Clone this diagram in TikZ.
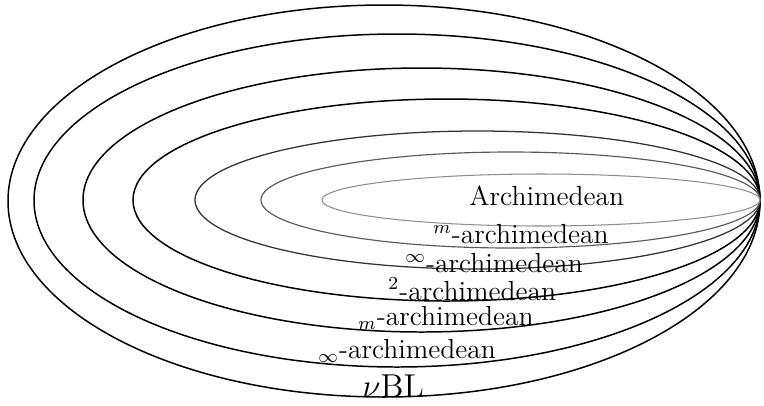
\documentclass[tikz,border=0pt]{standalone}
\begin{document}
\begin{tikzpicture}[x=0.435pt, y=-0.435pt,
  shell/.style={line width=0.65pt, draw=black},
  lbl/.style={inner sep=0pt, anchor=base west, font=\large},
  bigl/.style={inner sep=0pt, anchor=base west, font=\Large}]
\useasboundingbox (0,0) rectangle (764,405);
% nested ellipses sharing the right-hand vertex (760,200)
\coordinate (tip) at (760,200);
\draw[shell] (384,201) ellipse [x radius=376, y radius=196];
\draw[shell] (397,200.5) ellipse [x radius=363, y radius=166.5];
\draw[shell] (421.5,200) ellipse [x radius=338.5, y radius=132];
\draw[shell] (446.5,200) ellipse [x radius=313.5, y radius=101];
\draw[shell, draw=black!80, line width=0.55pt] (477.5,200) ellipse [x radius=282.5, y radius=69];
\draw[shell, draw=black!65, line width=0.5pt] (510.5,200) ellipse [x radius=249.5, y radius=48];
\draw[shell, draw=black!45, line width=0.45pt] (541,200) ellipse [x radius=219, y radius=26];
% class labels
\node[lbl] (a0) at (469,205) {Archimedean};
\node[lbl] (a1) at (433,243) {$^m$-archimedean};
\node[lbl] (a2) at (405,272) {$^\infty$-archimedean};
\node[lbl] (a3) at (388,300) {$^2$-archimedean};
\node[lbl] (a4) at (358,325) {$_m$-archimedean};
\node[lbl] (a5) at (318,358) {$_\infty$-archimedean};
\node[bigl] (a6) at (362,397) {$\nu$BL};
\end{tikzpicture}
\end{document}
